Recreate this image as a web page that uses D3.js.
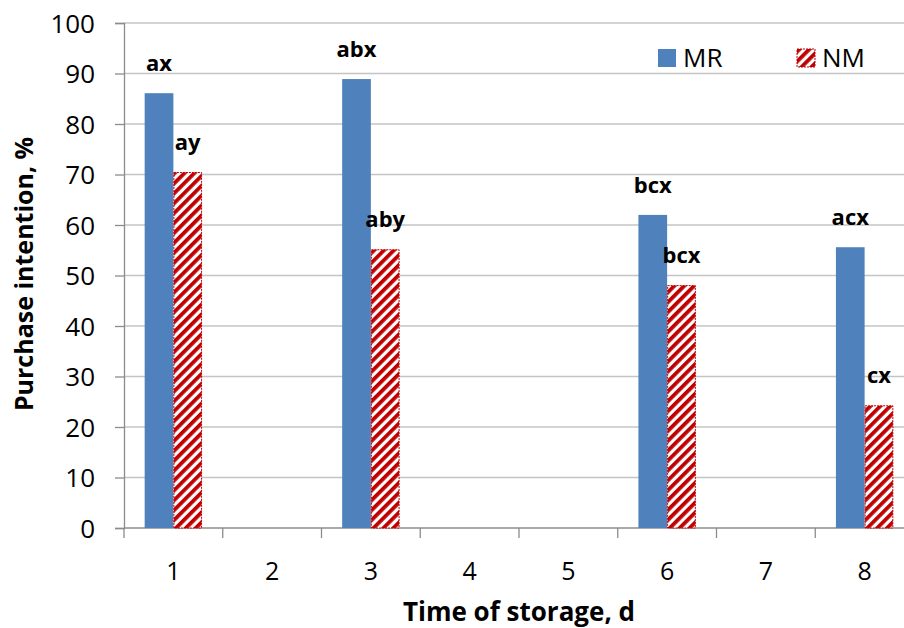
<!DOCTYPE html>
<html lang="en">
<head>
<meta charset="UTF-8">
<title>Purchase intention</title>
<style>
  body { margin: 0; background: #fff; }
  svg { display: block; font-family: "Open Sans", Lato, sans-serif; }
</style>
</head>
<body>
<div id="chart"></div>
<script src="https://d3js.org/d3.v7.min.js"></script>
<script>
// data
var days = ["1", "2", "3", "4", "5", "6", "7", "8"];
var sampledDays = ["1", "3", "6", "8"];
var mrValues = [86.1, 88.9, 62.0, 55.6];
var nmValues = [70.5, 55.2, 48.1, 24.3];
var mrLabels = ["ax", "abx", "bcx", "acx"];
var nmLabels = ["ay", "aby", "bcx", "cx"];
var yTicks = [0, 10, 20, 30, 40, 50, 60, 70, 80, 90, 100];
var seriesNames = ["MR", "NM"];

var width = 904, height = 628;
var margin = {top: 23, right: -10, bottom: 100, left: 124};
var innerW = width - margin.left - margin.right;
var innerH = height - margin.top - margin.bottom;

var svg = d3.select("#chart").append("svg")
    .attr("width", width)
    .attr("height", height);

// hatch pattern for NM
var defs = svg.append("defs");
defs.append("pattern")
    .attr("id", "hatch")
    .attr("patternUnits", "userSpaceOnUse")
    .attr("width", 7)
    .attr("height", 7)
    .attr("patternTransform", "rotate(45)")
  .call(function(p) {
    p.append("rect").attr("width", 7).attr("height", 7).attr("fill", "#fff");
    p.append("rect").attr("width", 3.8).attr("height", 7).attr("fill", "#C00000");
  });

var g = svg.append("g")
    .attr("transform", "translate(" + margin.left + "," + margin.top + ")");

var x = d3.scaleBand().domain(days).range([0, innerW]).padding(0);
var xs = d3.scaleBand().domain(seriesNames).range([0, x.bandwidth()]).paddingOuter(0.72).paddingInner(0);
var y = d3.scaleLinear().domain([0, 100]).range([innerH, 0]);

// gridlines
g.append("g").selectAll("line")
  .data(yTicks.slice(1))
  .enter().append("line")
    .attr("x1", 0).attr("x2", innerW)
    .attr("y1", function(d) { return y(d); })
    .attr("y2", function(d) { return y(d); })
    .attr("stroke", "#c4c4c4")
    .attr("stroke-width", 1.3);

// y axis
var yAxis = g.append("g")
    .call(d3.axisLeft(y).tickValues(yTicks).tickSize(9).tickPadding(20));
yAxis.select(".domain").attr("stroke", "#8c8c8c").attr("stroke-width", 1.3);
yAxis.selectAll(".tick line").attr("stroke", "#8c8c8c").attr("stroke-width", 1.3);
yAxis.selectAll(".tick text")
    .attr("font-size", 26)
    .attr("font-family", "'Open Sans', sans-serif")
    .attr("fill", "#000")
    .attr("dy", "0.36em");

// x axis (ticks at category boundaries)
var xAxisG = g.append("g").attr("transform", "translate(0," + innerH + ")");
xAxisG.append("line")
    .attr("x1", 0).attr("x2", innerW)
    .attr("stroke", "#8c8c8c").attr("stroke-width", 1.3);
xAxisG.selectAll(".bound")
  .data(days.concat(["end"]))
  .enter().append("line")
    .attr("x1", function(d, i) { return i * x.step(); })
    .attr("x2", function(d, i) { return i * x.step(); })
    .attr("y1", 0).attr("y2", 10)
    .attr("stroke", "#8c8c8c").attr("stroke-width", 1.3);
xAxisG.selectAll(".lab")
  .data(days)
  .enter().append("text")
    .attr("x", function(d) { return x(d) + x.bandwidth() / 2; })
    .attr("y", 52)
    .attr("text-anchor", "middle")
    .attr("font-size", 25)
    .text(function(d) { return d; });

// bars
var rows = sampledDays.map(function(d, i) {
  return {day: d, MR: mrValues[i], NM: nmValues[i], MRlab: mrLabels[i], NMlab: nmLabels[i]};
});

var groups = g.selectAll(".grp")
  .data(rows)
  .enter().append("g")
    .attr("transform", function(d) { return "translate(" + x(d.day) + ",0)"; });

groups.append("rect")
    .attr("x", xs("MR"))
    .attr("width", xs.bandwidth())
    .attr("y", function(d) { return y(d.MR); })
    .attr("height", function(d) { return innerH - y(d.MR); })
    .attr("fill", "#4F81BD");

groups.append("rect")
    .attr("x", xs("NM") + 0.5)
    .attr("width", xs.bandwidth() - 1)
    .attr("y", function(d) { return y(d.NM) + 0.5; })
    .attr("height", function(d) { return innerH - y(d.NM) - 0.5; })
    .attr("fill", "url(#hatch)")
    .attr("stroke", "#C00000")
    .attr("stroke-width", 1)
    .attr("stroke-dasharray", "2,1");

groups.append("text")
    .attr("x", xs("MR") + xs.bandwidth() / 2)
    .attr("y", function(d) { return y(d.MR) - 22; })
    .attr("text-anchor", "middle")
    .attr("font-size", 22)
    .attr("font-weight", "bold")
    .text(function(d) { return d.MRlab; });

groups.append("text")
    .attr("x", xs("NM") + xs.bandwidth() / 2)
    .attr("y", function(d) { return y(d.NM) - 22; })
    .attr("text-anchor", "middle")
    .attr("font-size", 22)
    .attr("font-weight", "bold")
    .text(function(d) { return d.NMlab; });

// legend
var legend = svg.append("g");
var legendX = [658, 797];
seriesNames.forEach(function(name, i) {
  var lg = legend.append("g").attr("transform", "translate(" + legendX[i] + ",49)");
  lg.append("rect")
      .attr("width", 18).attr("height", 18)
      .attr("fill", i === 0 ? "#4F81BD" : "url(#hatch)")
      .attr("stroke", i === 0 ? "none" : "#C00000")
      .attr("stroke-dasharray", "2,1");
  lg.append("text")
      .attr("x", 25).attr("y", 9)
      .attr("dy", "0.36em")
      .attr("font-size", 26)
      .text(name);
});

// axis titles
svg.append("text")
    .attr("x", 519).attr("y", 621)
    .attr("text-anchor", "middle")
    .attr("font-size", 26)
    .attr("font-weight", "bold")
    .text("Time of storage, d");

svg.append("text")
    .attr("transform", "translate(33,274) rotate(-90)")
    .attr("text-anchor", "middle")
    .attr("font-size", 25)
    .attr("font-weight", "bold")
    .text("Purchase intention, %");
</script>
</body>
</html>
